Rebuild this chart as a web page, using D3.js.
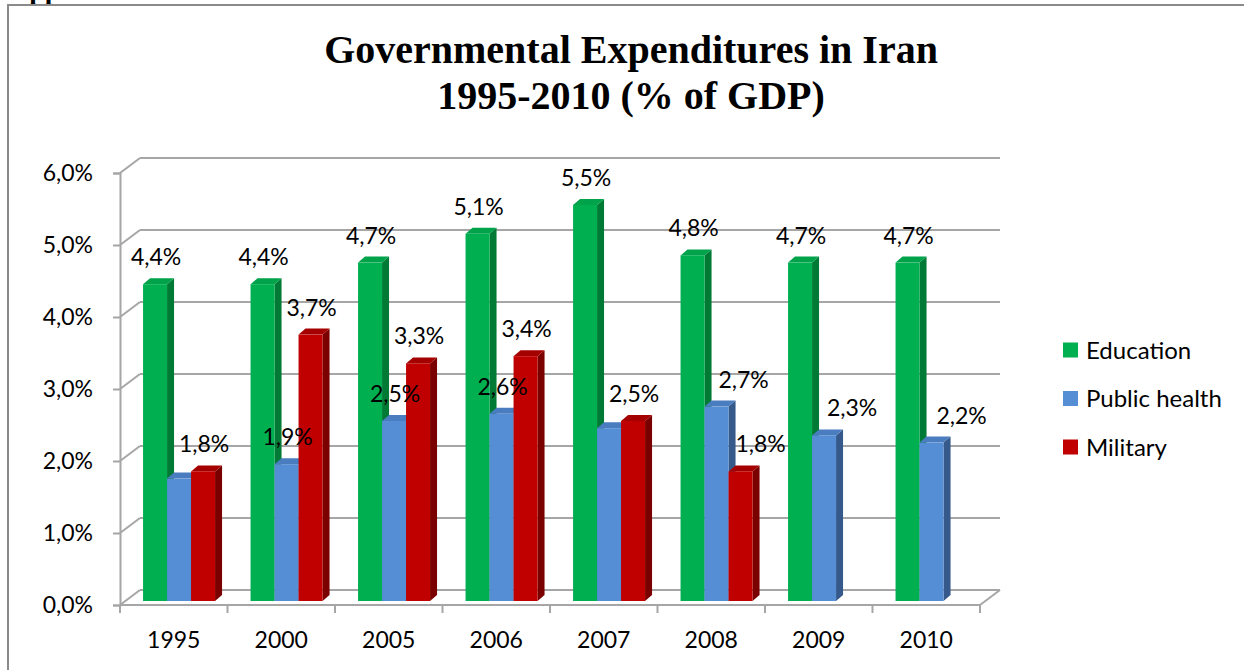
<!DOCTYPE html>
<html>
<head>
<meta charset="utf-8">
<script src="https://cdn.jsdelivr.net/npm/d3@7"></script>
<style>
  html, body { margin: 0; padding: 0; background: #fff; }
  svg { display: block; }
</style>
</head>
<body>
<svg id="chart" width="1244" height="670"></svg>
<script>
// Governmental expenditures in Iran, 1995-2010, as % of GDP
const years = ["1995", "2000", "2005", "2006", "2007", "2008", "2009", "2010"];
const seriesNames = ["Education", "Public health", "Military"];
const education    = [4.4, 4.4, 4.7, 5.1, 5.5, 4.8, 4.7, 4.7];
const publicHealth = [1.7, 1.9, 2.5, 2.6, 2.4, 2.7, 2.3, 2.2];
const military     = [1.8, 3.7, 3.3, 3.4, 2.5, 1.8, null, null];
const yTicks = [0, 1, 2, 3, 4, 5, 6];
// which bars carry a value label
const labelled = {
  "Education":     [true, true, true, true, true, true, true, true],
  "Public health": [false, true, true, true, false, true, true, true],
  "Military":      [true, true, true, true, true, true, false, false]
};

const series = [
  { name: "Education",     values: education,    front: "#00B050", side: "#007A35", top: "#00A24A" },
  { name: "Public health", values: publicHealth, front: "#558ED5", side: "#35598A", top: "#4A7DC0" },
  { name: "Military",      values: military,     front: "#C00000", side: "#7A0000", top: "#A50000" }
];

const svg = d3.select("#chart");
const fmt = v => v.toFixed(1).replace(".", ",") + "%";
const labelFont = "Lato, 'Open Sans', sans-serif";

// page frame and the clipped heading above it
svg.append("text")
  .attr("x", 9).attr("y", -1)
  .attr("font-family", "'Liberation Serif', 'Times New Roman', serif")
  .attr("font-weight", "bold").attr("font-size", 28)
  .text("Appendix");
svg.append("path")
  .attr("d", "M8,670 L8,5 L1244,5")
  .attr("fill", "none").attr("stroke", "#8a8a8a").attr("stroke-width", 2);

// title
const title = svg.append("text")
  .attr("text-anchor", "middle")
  .attr("font-family", "'Liberation Serif', 'Times New Roman', serif")
  .attr("font-weight", "bold").attr("font-size", 40)
  .attr("fill", "#000");
title.append("tspan").attr("x", 631).attr("y", 63).text("Governmental Expenditures in Iran");
title.append("tspan").attr("x", 631).attr("y", 109).text("1995-2010 (% of GDP)");

// scales
const x = d3.scaleBand().domain(years).range([120, 980]);
const y = d3.scaleLinear().domain([0, 6]).range([605, 173]);
const inner = d3.scaleBand().domain(seriesNames).range([0, 72]);

// 3-D projection offsets
const wallDX = 20, wallDY = -15;      // floor/wall depth
const faceDX = 5.3, faceDY = -4;      // bar front face sits slightly back
const barDX = 7, barDY = -6;          // bar thickness

const gridColor = "#a6a6a6";
const grid = svg.append("g").attr("stroke", gridColor).attr("stroke-width", 2).attr("fill", "none");

// back-wall gridlines and left-wall diagonals
yTicks.forEach(t => {
  const yy = y(t);
  grid.append("line")
    .attr("x1", x.range()[0] + wallDX).attr("x2", x.range()[1] + wallDX)
    .attr("y1", yy + wallDY).attr("y2", yy + wallDY);
  grid.append("line")
    .attr("x1", x.range()[0]).attr("y1", yy)
    .attr("x2", x.range()[0] + wallDX).attr("y2", yy + wallDY);
});
// floor front edge and right diagonal
grid.append("line")
  .attr("x1", x.range()[0]).attr("x2", x.range()[1])
  .attr("y1", y(0)).attr("y2", y(0));
grid.append("line")
  .attr("x1", x.range()[1]).attr("y1", y(0))
  .attr("x2", x.range()[1] + wallDX).attr("y2", y(0) + wallDY);

// value axis
const yAxis = d3.axisLeft(y)
  .tickValues(yTicks)
  .tickSize(7)
  .tickPadding(20)
  .tickFormat(fmt);
const yg = svg.append("g").attr("transform", `translate(${x.range()[0]},0)`).call(yAxis);
yg.select(".domain").attr("stroke", gridColor).attr("stroke-width", 2);
yg.selectAll(".tick line").attr("stroke", gridColor).attr("stroke-width", 2);
yg.selectAll(".tick text")
  .attr("font-family", labelFont).attr("font-size", 23).attr("fill", "#000");

// category axis: labels at band centres, ticks on band boundaries
const xAxis = d3.axisBottom(x).tickSize(0).tickPadding(27);
const xg = svg.append("g").attr("transform", `translate(0,${y(0)})`).call(xAxis);
xg.select(".domain").remove();
xg.selectAll(".tick text")
  .attr("font-family", labelFont).attr("font-size", 23).attr("fill", "#000");
const bounds = years.map(d => x(d)).concat([x.range()[1]]);
svg.append("g").selectAll("line").data(bounds).join("line")
  .attr("x1", d => d).attr("x2", d => d)
  .attr("y1", y(0)).attr("y2", y(0) + 8)
  .attr("stroke", gridColor).attr("stroke-width", 2);

// bars, painted left to right so each one covers its neighbour's side face
const bars = svg.append("g");
const labelData = [];
years.forEach((yr, i) => {
  const groupLeft = x(yr) + x.bandwidth() / 2 - 36 + faceDX;
  series.forEach(s => {
    const v = s.values[i];
    if (v == null) return;
    const x0 = groupLeft + inner(s.name);
    const x1 = x0 + inner.bandwidth();
    const yb = y(0) + faceDY;
    const yt = y(v) + faceDY;
    const g = bars.append("g");
    g.append("path")
      .attr("d", `M${x1},${yb} L${x1},${yt} L${x1 + barDX},${yt + barDY} L${x1 + barDX},${yb + barDY} Z`)
      .attr("fill", s.side);
    g.append("path")
      .attr("d", `M${x0},${yt} L${x1},${yt} L${x1 + barDX},${yt + barDY} L${x0 + barDX},${yt + barDY} Z`)
      .attr("fill", s.top);
    g.append("rect")
      .attr("x", x0).attr("y", yt)
      .attr("width", x1 - x0).attr("height", yb - yt)
      .attr("fill", s.front);
    if (labelled[s.name][i]) {
      labelData.push({ year: yr, name: s.name, v, cx: (x0 + x1) / 2 + 1, top: yt });
    }
  });
});

// a few labels sit to the right of their bars
const labelNudge = { "2008|Public health": 26, "2008|Military": 19, "2009|Public health": 27, "2010|Public health": 29 };
svg.append("g").selectAll("text").data(labelData).join("text")
  .attr("x", d => d.cx + (labelNudge[d.year + "|" + d.name] || 0))
  .attr("y", d => d.top - 19)
  .attr("text-anchor", "middle")
  .attr("font-family", labelFont).attr("font-size", 23).attr("fill", "#000")
  .text(d => fmt(d.v));

// legend
const legend = svg.append("g").selectAll("g").data(series).join("g")
  .attr("transform", (d, i) => `translate(1063,${350 + i * 48.5})`);
legend.append("rect")
  .attr("x", 0).attr("y", -7.5).attr("width", 15).attr("height", 15)
  .attr("fill", d => d.front);
legend.append("text")
  .attr("x", 23).attr("y", 8.5)
  .attr("font-family", labelFont).attr("font-size", 24).attr("fill", "#000")
  .text(d => d.name);
</script>
</body>
</html>
